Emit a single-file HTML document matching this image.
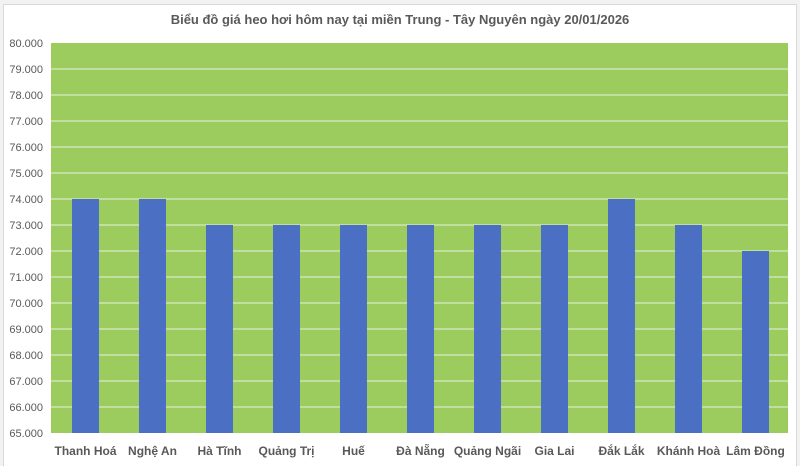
<!DOCTYPE html>
<html><head><meta charset="utf-8"><style>
html,body{margin:0;padding:0;background:#fff;}
body{width:800px;height:466px;position:relative;overflow:hidden;font-family:"Liberation Sans",sans-serif;}
</style></head><body>
<svg width="800" height="466" xmlns="http://www.w3.org/2000/svg" font-family="Liberation Sans, sans-serif">
<rect x="0" y="0" width="800" height="466" fill="#f2f2f2"/>
<rect x="3.5" y="4.5" width="793" height="470" fill="#fff" stroke="#d9d9d9"/>
<text x="400" y="24" text-anchor="middle" font-size="13" font-weight="bold" fill="#595959">Biểu đồ giá heo hơi hôm nay tại miền Trung - Tây Nguyên ngày 20/01/2026</text>
<rect x="51" y="43" width="737" height="390" fill="#9ccc5e"/>
<g stroke="#d9e8c4" stroke-width="1.2">
<line x1="51" x2="788" y1="69" y2="69"/><line x1="51" x2="788" y1="95" y2="95"/><line x1="51" x2="788" y1="121" y2="121"/><line x1="51" x2="788" y1="147" y2="147"/><line x1="51" x2="788" y1="173" y2="173"/><line x1="51" x2="788" y1="199" y2="199"/><line x1="51" x2="788" y1="225" y2="225"/><line x1="51" x2="788" y1="251" y2="251"/><line x1="51" x2="788" y1="277" y2="277"/><line x1="51" x2="788" y1="303" y2="303"/><line x1="51" x2="788" y1="329" y2="329"/><line x1="51" x2="788" y1="355" y2="355"/><line x1="51" x2="788" y1="381" y2="381"/><line x1="51" x2="788" y1="407" y2="407"/>
</g>
<g font-size="11" fill="#595959" text-anchor="end">
<text x="43" y="47">80.000</text><text x="43" y="73">79.000</text><text x="43" y="99">78.000</text><text x="43" y="125">77.000</text><text x="43" y="151">76.000</text><text x="43" y="177">75.000</text><text x="43" y="203">74.000</text><text x="43" y="229">73.000</text><text x="43" y="255">72.000</text><text x="43" y="281">71.000</text><text x="43" y="307">70.000</text><text x="43" y="333">69.000</text><text x="43" y="359">68.000</text><text x="43" y="385">67.000</text><text x="43" y="411">66.000</text><text x="43" y="437">65.000</text>
</g>
<g fill="#4a6fc3">
<rect x="72" y="199" width="27" height="234"/>
<rect x="139" y="199" width="27" height="234"/>
<rect x="206" y="225" width="27" height="208"/>
<rect x="273" y="225" width="27" height="208"/>
<rect x="340" y="225" width="27" height="208"/>
<rect x="407" y="225" width="27" height="208"/>
<rect x="474" y="225" width="27" height="208"/>
<rect x="541" y="225" width="27" height="208"/>
<rect x="608" y="199" width="27" height="234"/>
<rect x="675" y="225" width="27" height="208"/>
<rect x="742" y="251" width="27" height="182"/>
</g>
<g font-size="12" font-weight="bold" fill="#595959" text-anchor="middle">
<text x="85.5" y="455">Thanh Hoá</text><text x="152.5" y="455">Nghệ An</text><text x="219.5" y="455">Hà Tĩnh</text><text x="286.5" y="455">Quảng Trị</text><text x="353.5" y="455">Huế</text><text x="420.5" y="455">Đà Nẵng</text><text x="487.5" y="455">Quảng Ngãi</text><text x="554.5" y="455">Gia Lai</text><text x="621.5" y="455">Đắk Lắk</text><text x="688.5" y="455">Khánh Hoà</text><text x="755.5" y="455">Lâm Đồng</text>
</g>
</svg>
</body></html>
